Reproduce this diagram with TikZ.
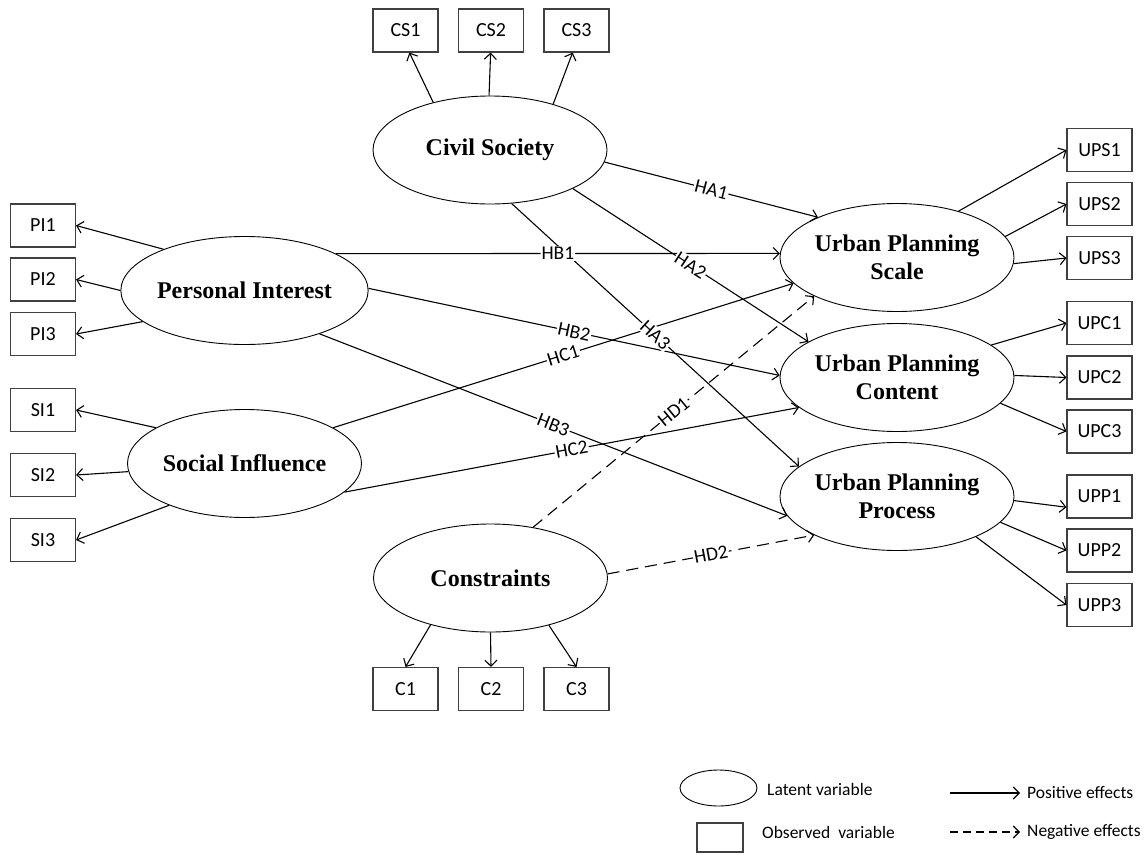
\documentclass[tikz,border=0pt]{standalone}
\usepackage{fontspec}
\setmainfont{Liberation Serif}
\newfontfamily\calfont{Carlito}
\usetikzlibrary{shapes.geometric,arrows.meta}
\begin{document}
\begin{tikzpicture}[x=1pt,y=-1pt,
 latent/.style={ellipse,draw,line width=0.9pt,inner sep=0pt,minimum width=234pt,minimum height=108pt,font=\fontsize{24}{28}\selectfont\bfseries,align=center},
 obs/.style={rectangle,draw=black!75,line width=1.1pt,minimum width=65pt,minimum height=43pt,inner sep=0pt,font=\calfont\fontsize{20}{24}\selectfont},
 link/.style={line width=1.1pt,-{Straight Barb[length=6pt,width=12pt]}},
 neg/.style={link,dash pattern=on 12pt off 7pt},
 lbl/.style={fill=white,inner sep=1pt,sloped,font=\calfont\fontsize{19.5}{22}\selectfont,pos=0.5},
 legtxt/.style={anchor=west,inner sep=0pt,font=\calfont\fontsize{17.5}{20}\selectfont}
]
\useasboundingbox (0,0) rectangle (1148,854);

% latent variables
\node[latent] (cs) at (490,150) {Civil Society};
\node[latent] (pi) at (244.5,290.5) {Personal Interest};
\node[latent] (si) at (244.5,463.5) {Social Influence};
\node[latent] (ct) at (490.5,578) {Constraints};
\node[latent] (ups) at (897,257.5) {Urban Planning\\Scale};
\node[latent] (upc) at (897,377.5) {Urban Planning\\Content};
\node[latent] (upp) at (897,496.5) {Urban Planning\\Process};

% observed variables
\node[obs] (cs1) at (405.5,30.5) {CS1};
\node[obs] (cs2) at (491,30.5) {CS2};
\node[obs] (cs3) at (576.5,30.5) {CS3};
\node[obs] (pi1) at (43,225.5) {PI1};
\node[obs] (pi2) at (43,279.5) {PI2};
\node[obs] (pi3) at (43,334) {PI3};
\node[obs] (si1) at (43,410) {SI1};
\node[obs] (si2) at (43,475) {SI2};
\node[obs] (si3) at (43,540) {SI3};
\node[obs] (ups1) at (1099.5,150) {UPS1};
\node[obs] (ups2) at (1099.5,204) {UPS2};
\node[obs] (ups3) at (1099.5,258) {UPS3};
\node[obs] (upc1) at (1099.5,323) {UPC1};
\node[obs] (upc2) at (1099.5,377.5) {UPC2};
\node[obs] (upc3) at (1099.5,431.5) {UPC3};
\node[obs] (upp1) at (1099.5,496.5) {UPP1};
\node[obs] (upp2) at (1099.5,550.5) {UPP2};
\node[obs] (upp3) at (1099.5,605) {UPP3};
\node[obs] (c1) at (405.5,689) {C1};
\node[obs] (c2) at (491,689) {C2};
\node[obs] (c3) at (576.5,689) {C3};

% measurement arrows
\draw[link] (cs.140) -- (cs1.-80);
\draw[link] (cs.91) -- (cs2.-91);
\draw[link] (cs.36) -- (cs3.-100);
\draw[link] (pi.153) -- (pi1.east);
\draw[link] (pi.180) -- (pi2.east);
\draw[link] (pi.197) -- (pi3.east);
\draw[link] (si.158) -- (si1.east);
\draw[link] (si.184) -- (si2.east);
\draw[link] (si.209) -- (si3.east);
\draw[link] (ups.37) -- (ups1.west);
\draw[link] (ups.11) -- (ups2.west);
\draw[link] (ups.-3) -- (ups3.west);
\draw[link] (upc.19) -- (upc1.west);
\draw[link] (upc.1.5) -- (upc2.west);
\draw[link] (upc.-14) -- (upc3.west);
\draw[link] (upp.-2) -- (upp1.198);
\draw[link] (upp.-14) -- (upp2.west);
\draw[link] (upp.-27) -- (upp3.west);
\draw[link] (ct.218) -- (c1.north);
\draw[link] (ct.-90) -- (c2.north);
\draw[link] (ct.-39) -- (c3.north);

% structural paths
\draw[link] (cs.-6.4) -- (ups.153);
\draw[link] (cs.-25) -- (upc.158);
\draw[link] (cs.-68) -- (upp.163.5);
\draw[link] (pi.22) -- (ups.178.8);
\draw[link] (pi.1) -- (upc.179);
\draw[link] (pi.-30) -- (upp.190);
\draw[link] (si.22.4) -- (ups.194.6);
\draw[link] (si.-16.7) -- (upc.197);
\draw[neg] (ct.50.7) -- (ups.205);
\draw[neg] (ct.2.4) -- (upp.205);

% path labels
\path (cs.-6.4) -- (ups.153) node[lbl] {HA1};
\path (cs.-25) -- (upc.158) node[lbl] {HA2};
\path (cs.-68) -- (upp.163.5) node[lbl] {HA3};
\path (pi.22) -- (ups.178.8) node[lbl] {HB1};
\path (pi.1) -- (upc.179) node[lbl] {HB2};
\path (pi.-30) -- (upp.190) node[lbl] {HB3};
\path (si.22.4) -- (ups.194.6) node[lbl] {HC1};
\path (si.-16.7) -- (upc.197) node[lbl] {HC2};
\path (ct.50.7) -- (ups.205) node[lbl] {HD1};
\path (ct.2.4) -- (upp.205) node[lbl] {HD2};

% legend
\node[ellipse,draw,line width=0.9pt,minimum width=77pt,minimum height=36pt,inner sep=0pt] (legL) at (718.5,788) {};
\node[legtxt] (legLt) at (767,789) {Latent variable};
\node[rectangle,draw=black!75,line width=1.1pt,minimum width=46pt,minimum height=29pt,inner sep=0pt] (legO) at (720,837.5) {};
\node[legtxt] (legOt) at (762,832) {Observed\ \ variable};
\coordinate (lp1) at (950,793);
\coordinate (lp2) at (1020,793);
\draw[link] (lp1) -- (lp2);
\node[legtxt] (legP) at (1027,793) {Positive effects};
\coordinate (ln1) at (950,832);
\coordinate (ln2) at (1020,832);
\draw[link,dash pattern=on 8pt off 5pt] (ln1) -- (ln2);
\node[legtxt] (legN) at (1027,832) {Negative effects};
\end{tikzpicture}
\end{document}
